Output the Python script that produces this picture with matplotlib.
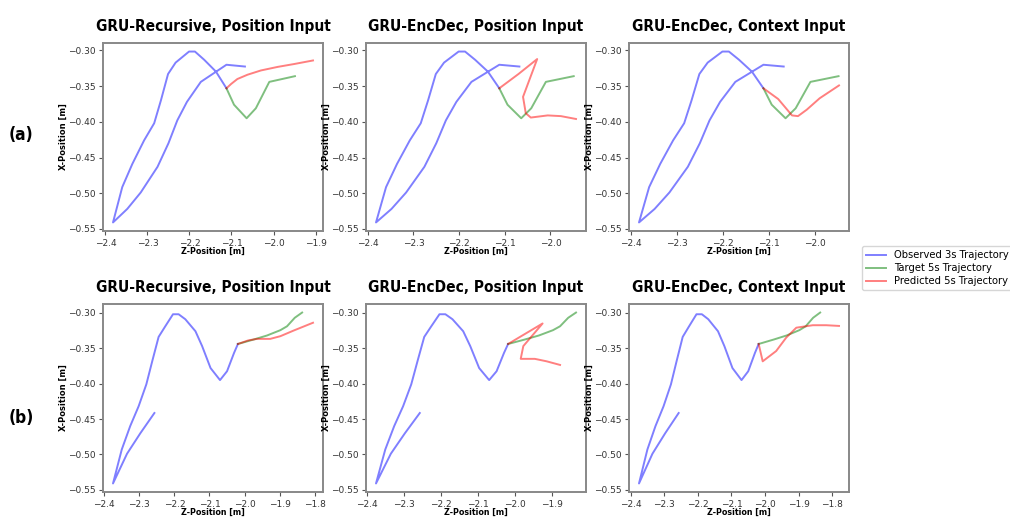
import matplotlib
matplotlib.use("Agg")
import matplotlib.pyplot as plt
from matplotlib.lines import Line2D
from matplotlib import font_manager as fm

# ---------------- data (Z, X positions in metres) ----------------
titles = ["GRU-Recursive, Position Input", "GRU-EncDec, Position Input", "GRU-EncDec, Context Input"]
row_labels = ["(a)", "(b)"]
legend_labels = ["Observed 3s Trajectory", "Target 5s Trajectory", "Predicted 5s Trajectory"]

# row (a)
obs_a_z = [-2.068, -2.112, -2.173, -2.206, -2.229, -2.250, -2.276, -2.316, -2.348, -2.382,
           -2.360, -2.336, -2.308, -2.284, -2.268, -2.251, -2.233, -2.201, -2.187, -2.165,
           -2.137, -2.112]
obs_a_x = [-0.3225, -0.320, -0.344, -0.372, -0.398, -0.430, -0.463, -0.499, -0.522, -0.541,
           -0.4915, -0.459, -0.426, -0.402, -0.370, -0.333, -0.317, -0.3015, -0.3015, -0.313,
           -0.3296, -0.353]
tgt_a_z = [-2.112, -2.094, -2.064, -2.042, -2.010, -1.949]
tgt_a_x = [-0.353, -0.376, -0.395, -0.381, -0.344, -0.336]
pred_a1_z = [-2.112, -2.101, -2.086, -2.062, -2.030, -1.990, -1.951, -1.906]
pred_a1_x = [-0.353, -0.347, -0.340, -0.334, -0.328, -0.323, -0.319, -0.314]
pred_a2_z = [-2.112, -2.070, -2.029, -2.060, -2.054, -2.043, -2.006, -1.977, -1.944]
pred_a2_x = [-0.353, -0.333, -0.312, -0.365, -0.388, -0.394, -0.391, -0.392, -0.396]
pred_a3_z = [-2.112, -2.080, -2.063, -2.050, -2.037, -2.018, -1.990, -1.948]
pred_a3_x = [-0.353, -0.368, -0.381, -0.391, -0.392, -0.383, -0.367, -0.349]

# row (b)
obs_b_z = [-2.257, -2.297, -2.335, -2.375, -2.350, -2.326, -2.302, -2.280, -2.263, -2.245,
           -2.226, -2.204, -2.188, -2.169, -2.140, -2.121, -2.097, -2.070, -2.050, -2.030,
           -2.019]
obs_b_x = [-0.4415, -0.470, -0.499, -0.541, -0.493, -0.460, -0.432, -0.401, -0.368, -0.334,
           -0.319, -0.302, -0.302, -0.309, -0.326, -0.347, -0.378, -0.395, -0.3825, -0.3566,
           -0.344]
tgt_b_z = [-2.019, -1.974, -1.936, -1.898, -1.879, -1.857, -1.836]
tgt_b_x = [-0.344, -0.3377, -0.332, -0.3245, -0.319, -0.307, -0.2996]
pred_b1_z = [-2.019, -1.990, -1.965, -1.927, -1.898, -1.860, -1.805]
pred_b1_x = [-0.344, -0.339, -0.3368, -0.3368, -0.333, -0.325, -0.314]
pred_b2_z = [-2.019, -1.926, -1.978, -1.985, -1.947, -1.915, -1.879]
pred_b2_x = [-0.344, -0.315, -0.347, -0.365, -0.365, -0.3685, -0.3736]
pred_b3_z = [-2.019, -2.007, -1.967, -1.937, -1.907, -1.858, -1.818, -1.780]
pred_b3_x = [-0.344, -0.3685, -0.354, -0.335, -0.321, -0.3175, -0.3175, -0.3185]

rows = [
    (obs_a_z, obs_a_x, tgt_a_z, tgt_a_x,
     [(pred_a1_z, pred_a1_x), (pred_a2_z, pred_a2_x), (pred_a3_z, pred_a3_x)]),
    (obs_b_z, obs_b_x, tgt_b_z, tgt_b_x,
     [(pred_b1_z, pred_b1_x), (pred_b2_z, pred_b2_x), (pred_b3_z, pred_b3_x)]),
]

# ---------------- pick a narrow bold font ----------------
def find_condensed():
    best = None
    order = {"extra-condensed": 0, "condensed": 1, "semi-condensed": 2}
    for f in fm.fontManager.ttflist:
        nm = f.name.lower()
        st = str(f.stretch).lower()
        fn = f.fname.lower()
        is_cond = ("condensed" in nm or "narrow" in nm or st in order
                   or "condensed" in fn or "narrow" in fn)
        if not is_cond:
            continue
        w = f.weight
        try:
            w = int(w)
        except (TypeError, ValueError):
            w = 700 if "bold" in str(w).lower() else 400
        if w < 600 or "italic" in fn or f.style != "normal":
            continue
        rank = (order.get(st, 1), abs(w - 700))
        if best is None or rank < best[0]:
            best = (rank, f.fname)
    return best[1] if best else None

cond_path = find_condensed()
def cprops(size):
    if cond_path:
        return fm.FontProperties(fname=cond_path, size=size)
    return fm.FontProperties(family=["Roboto", "Liberation Sans", "DejaVu Sans"],
                             weight="bold", size=size)

# ---------------- figure ----------------
W, H = 1010, 523
fig = plt.figure(figsize=(W / 100, H / 100), dpi=100)
c_obs, c_tgt, c_pred = "b", "g", "r"
alpha = 0.5
lw = 1.4

col_left = [103, 366, 629]
row_top = [43, 304]
ax_w, ax_h = 220, 188

title_objs, xl_objs, yl_objs = [], [], []
for r, (oz, ox, tz, tx, preds) in enumerate(rows):
    for c in range(3):
        l = col_left[c] / W
        b = (H - row_top[r] - ax_h) / H
        ax = fig.add_axes([l, b, ax_w / W, ax_h / H])
        ax.plot(oz, ox, color=c_obs, alpha=alpha, lw=lw)
        ax.plot(tz, tx, color=c_tgt, alpha=alpha, lw=lw)
        pz, px = preds[c]
        ax.plot(pz, px, color=c_pred, alpha=alpha, lw=lw)
        ax.set_yticks([-0.30, -0.35, -0.40, -0.45, -0.50, -0.55])
        ax.tick_params(labelsize=6.5, colors="#555555", labelcolor="#333333",
                       length=3, width=0.8, pad=2.5)
        for s in ax.spines.values():
            s.set_color("#888888")
            s.set_linewidth(1.4)
        title_objs.append(ax.set_title(titles[c], fontproperties=cprops(14), pad=8.6))
        xl_objs.append(ax.set_xlabel("Z-Position [m]", fontproperties=cprops(8)))
        yl_objs.append(ax.set_ylabel("X-Position [m]", fontproperties=cprops(8)))
        ax.xaxis.set_label_coords(0.5, -0.082)
        ax.yaxis.set_label_coords(-0.16, 0.5)

row_objs = []
for r, lab in enumerate(row_labels):
    y = 1 - (135 if r == 0 else 418) / H
    row_objs.append(fig.text(21 / W, y, lab, fontproperties=cprops(16),
                             ha="center", va="center"))

handles = [Line2D([], [], color=col, alpha=alpha, lw=lw) for col in (c_obs, c_tgt, c_pred)]
fig.legend(handles, legend_labels, loc="center left", bbox_to_anchor=(857 / W, 1 - 268 / H),
           fontsize=7.2, frameon=True, handlelength=2.0, borderpad=0.4, labelspacing=0.3,
           handletextpad=0.8)

# scale font sizes so the text widths match the reference
fig.canvas.draw()
rend = fig.canvas.get_renderer()
def fit(objs, target, horizontal=True):
    ext = objs[0].get_window_extent(rend)
    cur = ext.width if horizontal else ext.height
    size = objs[0].get_fontsize() * target / cur
    for o in objs:
        o.set_fontsize(size)

fit(title_objs, 236)
fit(xl_objs, 64)
fit(yl_objs, 66, horizontal=False)
fit(row_objs, 25)

fig.savefig("out.png", dpi=100)
